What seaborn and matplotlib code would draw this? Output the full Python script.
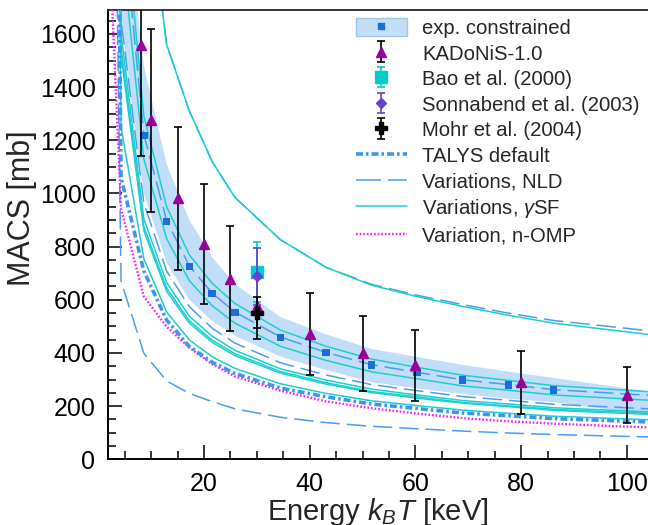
import numpy as np
import pandas as pd
import matplotlib
matplotlib.use("Agg")
import matplotlib.pyplot as plt
import seaborn as sns
from matplotlib.patches import Patch
from matplotlib.lines import Line2D
from matplotlib.ticker import MultipleLocator

sns.set_theme(style="ticks")
plt.rcParams['font.family'] = ['Liberation Sans', 'DejaVu Sans']
plt.rcParams['mathtext.fontset'] = 'custom'
plt.rcParams['mathtext.it'] = 'Liberation Sans:italic'
plt.rcParams['mathtext.rm'] = 'Liberation Sans'
plt.rcParams['lines.scale_dashes'] = False

# ---------------- data ----------------
# temperature grid (kT in keV) of the calculations
kT = [0.86, 4.31, 8.62, 12.93, 17.23, 21.54, 25.85, 34.47, 43.09, 51.70, 60.32, 68.94, 77.55, 86.17, 129.26]

band_upper = [10000, 2230, 1480, 1110, 900, 760, 660, 535, 470, 415, 385, 355, 330, 306, 183]
band_lower = [8000, 1650, 1000, 740, 600, 520, 465, 386, 336, 290, 267, 245, 228, 215, 99]

exp_x = [8.62, 12.93, 17.23, 21.54, 25.85, 34.47, 43.09, 51.70, 60.32, 68.94, 77.55, 86.17]
exp_y = [1217, 895, 725, 623, 552, 458, 401, 355, 326, 298, 280, 261]

talys_default = [8000, 1060, 708, 524, 424, 365, 323, 268, 235, 208, 191, 174, 164, 153, 123]
omp_variation = [2500, 942, 612, 499, 420, 358, 312, 258, 218, 192, 172, 155, 143, 134, 100]

nld_variations = [
    [15000, 4000, 2260, 1560, 1310, 1120, 985, 826, 722, 658, 617, 582, 550, 522, 430],
    [9000, 2100, 1222, 898, 727, 625, 554, 460, 402, 356, 327, 299, 281, 262, 211],
    [7500, 1650, 964, 708, 574, 493, 437, 363, 317, 281, 258, 236, 222, 207, 166],
    [5700, 670, 399, 295, 248, 217, 190, 158, 138, 124, 115, 106, 99, 93, 72],
]
gsf_variations = [
    [15000, 4000, 2260, 1560, 1310, 1120, 985, 826, 722, 655, 612, 575, 542, 512, 410],
    [9500, 2200, 1292, 950, 769, 662, 586, 486, 425, 377, 346, 316, 297, 277, 223],
    [8800, 1950, 1129, 830, 672, 578, 512, 425, 372, 329, 303, 276, 260, 242, 195],
    [8000, 1600, 904, 665, 538, 463, 410, 340, 298, 264, 242, 221, 208, 194, 156],
    [8000, 1550, 875, 644, 521, 448, 397, 330, 288, 255, 235, 214, 201, 188, 151],
    [8000, 1520, 860, 632, 512, 440, 390, 324, 283, 251, 230, 211, 198, 184, 149],
    [8000, 1250, 754, 554, 449, 386, 342, 284, 248, 220, 202, 185, 173, 162, 130],
]

kadonis_x = [8, 10, 15, 20, 25, 30, 40, 50, 60, 80, 100]
kadonis_y = [1557, 1275, 981, 811, 680, 577, 471, 399, 353, 289, 242]
kadonis_err = [418, 345, 268, 226, 198, 125, 154, 141, 132, 117, 105]

bao_x, bao_y, bao_err = [30], [703], [113]
sonn_x, sonn_y, sonn_err = [30], [688], [108]
mohr_x, mohr_y, mohr_err = [30], [552], [60]

# ---------------- styles ----------------
c_band = '#c2ddf8'
c_band_edge = '#9cc6f2'
c_sq = '#1a6ed8'
c_cyan = '#1ccfcf'
c_nld = '#4a9cf5'
c_talys = '#3a96f0'
c_omp = '#ff1aff'
c_kad = '#990099'
c_bao = '#00cccc'
c_sonn = '#6a3fd0'

fig = plt.figure(figsize=(6.48, 5.25), dpi=100)
ax = fig.add_axes([108/648, 1 - 459.3/525, 1 - 108/648, (459.3 - 10)/525])

# band
ax.fill_between(kT, band_lower, band_upper, color=c_band, linewidth=0, zorder=1)

def curve(y, color, lw, dashes=None, z=2):
    df = pd.DataFrame({'kT': kT, 'MACS': y})
    sns.lineplot(data=df, x='kT', y='MACS', ax=ax, color=color, linewidth=lw,
                 estimator=None, sort=False, zorder=z)
    ln = ax.lines[-1]
    if dashes is not None:
        ln.set_dashes(dashes)
    return ln

nld_dash = (14, 5)
talys_dash = (5, 2.2, 1.8, 2.2)
omp_dash = (1.2, 1.4)

for y in nld_variations:
    curve(y, c_nld, 1.1, nld_dash, z=2)
for y in gsf_variations:
    curve(y, c_cyan, 1.1, None, z=2.5)
curve(omp_variation, c_omp, 1.7, omp_dash, z=3)
curve(talys_default, c_talys, 2.6, talys_dash, z=3.2)

# exp constrained points
sns.scatterplot(x=exp_x, y=exp_y, ax=ax, marker='s', s=28, color=c_sq,
                edgecolor='none', linewidth=0, zorder=5)

# data points
ekw = dict(elinewidth=1.2, capsize=2.6, capthick=1.2, linestyle='none')
kad = ax.errorbar(kadonis_x, kadonis_y, yerr=kadonis_err, fmt='^', ms=7,
                  color=c_kad, ecolor='black', mec=c_kad, zorder=6, **ekw)
bao = ax.errorbar(bao_x, bao_y, yerr=bao_err, fmt='s', ms=8, color=c_bao,
                  ecolor=c_bao, mec=c_bao, zorder=6, **ekw)
sonn = ax.errorbar(sonn_x, sonn_y, yerr=sonn_err, fmt='D', ms=5, color=c_sonn,
                   ecolor=c_sonn, mec=c_sonn, zorder=7, **ekw)
mohr = ax.errorbar(mohr_x, mohr_y, yerr=mohr_err, fmt='P', ms=9, color='black',
                   ecolor='black', mec='black', zorder=8, **ekw)

# axes styling
ax.set_xlim(1.84, 104.0)
ax.set_ylim(0, 1690)
ax.xaxis.set_major_locator(MultipleLocator(20))
ax.xaxis.set_minor_locator(MultipleLocator(5))
ax.yaxis.set_major_locator(MultipleLocator(200))
ax.yaxis.set_minor_locator(MultipleLocator(50))
ax.tick_params(which='both', direction='in', colors='black', labelsize=18,
               width=1.1, top=False, right=False)
ax.tick_params(which='major', length=10, pad=9)
ax.tick_params(which='minor', length=5.5)
ax.set_xticks([20, 40, 60, 80, 100])
for side in ['left', 'bottom']:
    ax.spines[side].set_color('black')
    ax.spines[side].set_linewidth(1.4)
ax.spines['top'].set_color('#333333')
ax.spines['top'].set_linewidth(1.4)
ax.spines['right'].set_visible(False)
ax.set_facecolor('white')
ax.grid(False)

ax.set_xlabel(r'Energy $k_{B}T$ [keV]', fontsize=21)
ax.set_ylabel('MACS [mb]', fontsize=22)
ax.xaxis.set_label_coords(0.5, -0.082)
ax.yaxis.set_label_coords(-0.131, 0.56)

# legend
h_exp = (Patch(facecolor=c_band, edgecolor=c_band_edge, linewidth=1.0),
         Line2D([], [], marker='s', ms=4.5, color=c_sq, linestyle='none'))
h_talys = Line2D([], [], color=c_talys, linewidth=2.6, dashes=talys_dash)
h_nld = Line2D([], [], color=c_nld, linewidth=1.1, dashes=(18, 5))
h_gsf = Line2D([], [], color=c_cyan, linewidth=1.1)
h_omp = Line2D([], [], color=c_omp, linewidth=1.7, dashes=omp_dash)

handles = [h_exp, kad, bao, sonn, mohr, h_talys, h_nld, h_gsf, h_omp]
labels = ['exp. constrained', 'KADoNiS-1.0', 'Bao et al. (2000)',
          'Sonnabend et al. (2003)', 'Mohr et al. (2004)', 'TALYS default',
          'Variations, NLD', r'Variations, $\gamma$SF', 'Variation, n-OMP']
leg = ax.legend(handles, labels, loc='upper left',
                bbox_to_anchor=(356/648, 1 - 18/525), bbox_transform=fig.transFigure,
                frameon=False, fontsize=14.6, handlelength=2.5, handleheight=1.0,
                handletextpad=0.75, labelspacing=0.275, borderpad=0, borderaxespad=0)

fig.savefig('out.png', dpi=100)
